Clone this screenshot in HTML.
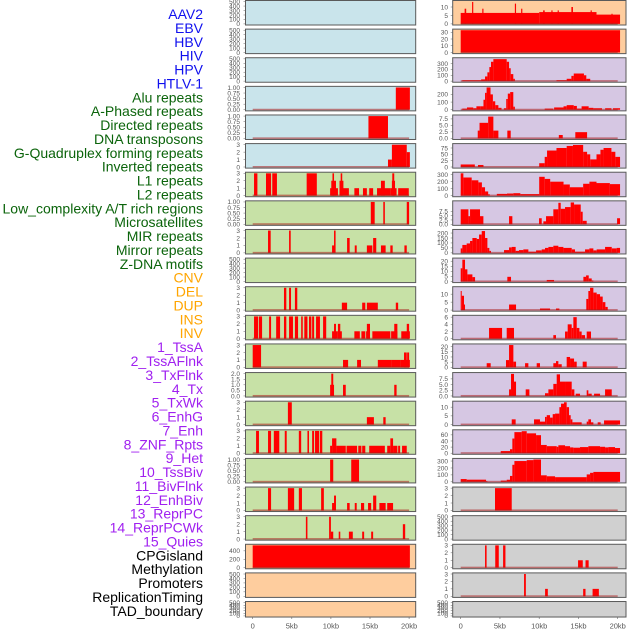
<!DOCTYPE html>
<html><head><meta charset="utf-8">
<style>
html,body{margin:0;padding:0;background:#fff;}
svg{display:block;font-family:"Liberation Sans",sans-serif;}
</style></head>
<body>
<svg id="chart" width="630" height="630" viewBox="0 0 630 630" xmlns="http://www.w3.org/2000/svg"></svg>
<script>
// ---- labels ----
const labelNames = ["AAV2","EBV","HBV","HIV","HPV","HTLV-1","Alu repeats","A-Phased repeats","Directed repeats","DNA transposons","G-Quadruplex forming repeats","Inverted repeats","L1 repeats","L2 repeats","Low_complexity A/T rich regions","Microsatellites","MIR repeats","Mirror repeats","Z-DNA motifs","CNV","DEL","DUP","INS","INV","1_TssA","2_TssAFlnk","3_TxFlnk","4_Tx","5_TxWk","6_EnhG","7_Enh","8_ZNF_Rpts","9_Het","10_TssBiv","11_BivFlnk","12_EnhBiv","13_ReprPC","14_ReprPCWk","15_Quies","CPGisland","Methylation","Promoters","ReplicationTiming","TAD_boundary"];
const labelGroups = [6,13,5,15,5];
const groupColors = ["#1010ee","#0b640b","#ffa500","#a020f0","#000000"];
const xTicks = [0,5,10,15,20];
const xTickLabels = ["0","5kb","10kb","15kb","20kb"];

// ---- left column data: segments [startKb, endKb, value] ----
const lAAV2 = [];
const lHBV = [];
const lHPV = [];
const lAlu = [[18.3,20.1,1]];
const lDirected = [[14.8,17.3,1]];
const lGquad = [[17.3,17.8,1],[17.8,19.7,3],[19.7,20.1,2]];
const lL1 = [[0.17,0.6,3],[1.7,2.35,3],[2.5,3.1,3],[6.9,8.2,3],[9.9,10.9,1],[10.05,10.65,2],[10.2,10.4,3],[11.1,12.3,1],[11.1,11.6,2],[11.25,11.45,3],[13,13.6,1],[14.1,14.6,1],[14.9,15.4,1],[15.9,17.6,1],[16.4,16.9,2],[17.6,18.4,1],[17.8,18.2,2],[17.85,18.1,3],[18.6,19.96,1]];
const lLowComplex = [[15.1,15.6,1],[16.7,16.9,1],[19.7,20.0,1]];
const lMIR = [[1.96,2.3,3],[4.65,4.86,3],[10.15,10.45,1],[10.4,10.6,3],[12.07,12.4,2],[13.05,13.3,1],[14.6,15.0,1],[15.0,15.3,1],[15.4,15.8,2],[16.4,17.0,1],[17.6,17.9,1],[19.4,19.7,1]];
const lZDNA = [];
const lDEL = [[4.0,4.3,3],[4.65,4.9,3],[5.4,5.7,3],[11.4,12.07,1],[14.0,14.4,1],[14.6,16.0,1],[18.3,18.6,1]];
const lINS = [[0.17,0.7,3],[0.8,1.2,3],[2.1,2.35,3],[3.0,3.5,3],[4.0,4.3,3],[4.65,5.15,3],[5.4,5.8,3],[6.2,6.4,3],[6.6,7.0,3],[7.2,7.5,3],[7.6,7.85,3],[8.1,8.6,3],[9.0,9.4,3],[10.15,10.8,1],[10.4,10.65,2],[10.8,11.4,1],[10.9,11.2,2],[13.0,13.7,1],[13.9,14.4,1],[14.5,15.0,1],[14.6,15.0,2],[15.3,17.6,1],[17.7,18.5,1],[18.1,18.5,2],[19.0,20.1,1],[19.7,20.0,2]];
const lTssA = [[0,1.07,3],[11.55,12.2,1],[13.35,13.85,1],[16.0,17.8,1],[17.8,18.85,1],[18.85,20.1,1],[19.35,19.7,2],[19.75,20.0,2]];
const lTxFlnk = [[9.9,10.4,1],[10.05,10.3,2],[11.55,11.9,1],[18.1,18.4,1]];
const lTxWk = [[4.5,5.0,3],[14.6,15.5,1],[16.7,17.0,1]];
const lEnh = [[0.43,0.8,3],[1.96,2.35,3],[2.7,3.4,3],[4.1,4.35,3],[5.9,6.2,3],[7.0,7.2,3],[7.6,7.85,3],[7.97,8.5,3],[8.6,8.9,3],[9.9,10.15,1],[10.15,10.7,2],[10.7,11.9,1],[12.0,13.35,1],[13.5,13.9,1],[14.0,14.4,1],[14.9,16.9,1],[17.2,17.6,1],[17.6,17.95,2],[17.95,18.5,1],[18.6,18.85,1],[19.1,19.7,1]];
const lHet = [[9.9,10.3,1],[12.6,13.6,1]];
const lBivFlnk = [[1.96,2.35,3],[4.5,5.3,3],[5.9,6.3,3],[8.75,9.1,3],[10.15,10.5,1],[10.4,10.65,2],[12.07,12.4,1],[13.05,13.3,1],[13.85,14.25,1],[14.75,15.15,1],[15.4,15.8,2],[16.2,17.0,1],[17.2,17.95,1]];
const lReprPC = [[6.8,7.0,3],[9.77,10.0,3],[10.0,10.3,1],[11.0,11.2,1],[12.3,12.8,1],[14.0,14.25,1],[15.15,15.4,1],[19.2,19.5,2]];
const lCPG = [[0,20.1,530]];
const lPromoters = [];
const lTAD = [];

// ---- right column data ----
const rAAV2 = [[0,10,6.5],[10,17.3,7],[17.3,20.3,5.5],[0.5,0.7,9],[1.45,1.6,13],[2.75,2.9,9],[6.9,7.05,12],[7.7,7.85,9],[10.5,10.7,8],[11.55,11.7,8],[12.35,12.5,8],[14.1,14.3,10],[16.55,16.7,8],[19.2,19.35,6]];
const rEBV = [[0,20.3,33]];
const rHBV = [[0.2,2.6,15],[2.6,3.1,30],[3.1,3.4,80],[3.4,3.65,150],[3.65,3.86,240],[3.86,4.16,330],[4.16,5.86,375],[5.86,6.16,330],[6.16,6.37,220],[6.37,6.7,120],[6.7,6.9,40],[12.2,13.5,15],[13.5,14.1,40],[14.1,14.4,90],[14.4,15.7,130],[15.7,16.0,100],[16.0,16.5,40]];
const rHIV = [[0.2,0.8,15],[0.8,1.6,30],[1.6,2.0,20],[2.0,2.5,45],[2.5,2.9,45],[2.9,3.1,130],[3.1,3.3,220],[3.3,3.8,290],[3.8,4.1,200],[4.1,4.4,110],[4.4,4.8,60],[4.8,5.2,25],[5.5,5.8,20],[5.8,6.0,140],[6.0,6.3,210],[6.3,6.7,230],[6.7,6.9,40],[10.7,11.8,15],[11.9,13.1,30],[13.1,13.5,45],[13.5,14.4,60],[14.4,14.8,50],[14.8,15.4,15],[15.4,16.3,45],[16.3,16.9,25],[16.9,18.0,20],[18.4,19.2,20],[19.4,20.3,20]];
const rHPV = [[2.17,2.4,3],[2.4,3.5,6],[3.5,4.16,8.4],[4.16,4.8,3],[5.94,6.37,3],[12.5,13.0,1.3],[14.6,16.1,2.4]];
const rGquad = [[0,1.8,10],[2.2,2.9,8],[10,10.7,15],[10.7,11,40],[11,12.2,65],[12.2,13.5,75],[13.5,14.3,83],[14.3,15.6,87],[15.6,16.1,60],[16.1,16.5,50],[16.5,17.3,30],[17.3,17.8,50],[17.8,18.2,68],[18.2,19.2,75],[19.2,19.7,60],[19.7,20.3,40]];
const rInverted = [[0,0.34,320],[0.34,1.4,260],[1.4,2.25,220],[2.25,2.7,190],[2.7,3.1,120],[3.1,3.5,60],[3.5,3.7,20],[4.6,5.9,25],[5.9,6.7,30],[6.7,7.6,35],[7.6,10,22],[10,10.7,270],[10.7,11.4,240],[11.4,13.1,200],[13.1,13.9,160],[13.9,15.6,120],[15.6,16.4,170],[16.4,17.3,200],[17.3,19,180],[19,20.3,165]];
const rL2 = [[0,0.98,8.7],[0.98,1.19,4.7],[1.19,2.46,8.7],[2.46,2.89,4.7],[6.16,6.58,4.7],[9.98,10.32,3.5],[10.53,10.87,1.7],[10.87,11.8,4.7],[11.8,12.44,8.7],[12.44,12.74,12.5],[12.74,13.29,9],[13.29,14.01,10],[14.01,14.44,12.7],[14.44,15.29,11.5],[15.29,15.54,7.3],[15.54,16.05,2],[19.92,20.3,3.5]];
const rMIR = [[0,0.21,45],[0.21,0.76,80],[0.76,1.19,95],[1.19,1.49,120],[1.49,2.04,150],[2.04,2.34,140],[2.34,2.68,185],[2.68,3.1,220],[3.1,3.4,150],[3.4,3.65,50],[3.65,3.86,20],[5.52,6.16,28],[6.16,6.5,55],[6.5,7.0,60],[7.0,7.43,20],[7.43,7.98,28],[7.98,8.62,35],[8.62,9.6,12],[9.6,10.32,25],[10.32,10.74,35],[10.74,11.17,50],[11.17,11.8,60],[11.8,12.44,72],[12.44,13.08,60],[13.08,14.14,50],[14.14,14.56,35],[14.56,15.84,12],[15.84,16.39,35],[16.39,16.9,45],[16.9,17.32,25],[17.32,18.39,35],[18.39,19.24,60],[19.24,19.87,45],[19.87,20.3,50]];
const rZDNA = [[0,0.21,13],[0.21,0.55,21.5],[0.55,0.85,12],[0.85,1.49,7],[1.49,1.83,4.3],[5.94,6.41,4.6],[10.96,11.89,1.5],[15.63,15.97,4.6],[15.97,16.31,6],[16.31,16.69,3],[16.69,16.9,1]];
const rCNV = [[0,0.13,12],[0.13,0.42,9],[0.42,0.55,3.5],[6.16,7.05,3.5],[10.1,11.38,1],[12.14,12.57,1],[16.0,16.26,7],[16.26,16.48,12],[16.48,16.9,14],[16.9,17.32,11],[17.32,17.75,10],[17.75,18.09,8.5],[18.09,18.43,5],[18.43,18.73,2]];
const rDEL = [[3.61,5.27,3],[5.86,6.79,3],[11.8,12.14,1],[13.29,13.63,2],[13.63,14.14,4],[14.14,14.35,3],[14.35,14.78,6],[14.78,15.12,3],[15.12,15.41,2],[15.41,15.84,1],[16.05,16.6,2]];
const rDUP = [[3.31,3.82,4],[5.77,6.16,7],[6.16,6.71,21.5],[6.71,7.05,5.5],[8.2,8.62,4],[9.68,10.1,4],[11.8,12.14,4],[12.14,12.44,6],[12.44,12.87,3],[13.5,13.93,10],[13.93,14.44,8.5],[14.44,14.78,5.5],[15.54,16.05,5.5]];
const rINS = [[6.16,6.41,2.9],[6.41,6.79,9.7],[6.79,7.05,6.3],[8.28,8.75,2.9],[10.74,11.17,1.2],[11.17,11.8,2.9],[11.8,12.23,5.3],[12.23,12.65,9.5],[12.65,13.29,6.3],[13.29,14.14,6.3],[14.14,14.48,2.9],[14.65,15.2,1],[16.05,16.26,2.5],[16.26,16.69,1],[16.99,17.75,1],[18.39,19.24,2.9]];
const rTssA = [[6.5,7.0,3],[9.34,10.1,3],[10.1,10.74,1.7],[10.74,10.96,4.4],[10.96,11.38,5.4],[11.38,11.72,4],[11.72,12.02,6],[12.02,12.57,6.3],[12.57,12.78,10],[12.78,13.16,12],[13.16,13.5,12.8],[13.5,13.8,10],[13.8,14.01,5.4],[14.01,14.23,3],[14.23,15.41,1.3],[16.05,16.26,1.7],[16.26,16.6,3],[16.6,16.9,1.3],[17.45,17.83,1.3],[18.26,20.3,2.4]];
const rTxFlnk = [[5.1,6.28,7],[6.28,6.58,13],[6.58,6.84,48],[6.84,7.77,69],[7.77,8.41,72],[8.41,9.6,65],[9.6,10.23,59],[10.23,10.96,27],[10.96,12.23,23],[12.23,12.44,21],[12.44,13.29,26],[13.29,13.93,23],[13.93,14.35,19],[14.35,15.2,18],[15.2,16.26,20],[16.26,17.75,23],[17.75,18.39,21],[18.39,18.81,19],[18.81,19.66,20],[19.66,20.3,17]];
const rTxWk = [[0,0.76,40],[0.76,3.23,31],[3.23,3.4,10],[5.1,5.86,18],[5.86,6.28,30],[6.28,6.58,85],[6.58,6.84,246],[6.84,8.41,300],[8.41,9.26,313],[9.26,10.23,322],[10.23,10.96,94],[10.96,12.02,80],[12.02,16.05,67],[16.05,16.48,107],[16.48,16.9,130],[16.9,20.3,143]];
const rEnh = [[4.37,6.5,3]];
const rHet = [];
const rBivFlnk = [[3.1,3.3,3],[4.4,4.85,3],[5.4,5.7,3],[14.95,15.55,1],[15.9,16.3,1]];
const rReprPC = [[8.07,8.3,3],[10.75,11.1,1],[15.6,15.9,1],[16.8,17.6,1]];
const rQuies = [];

// ---- y-axis maxima and ticks ----
const leftSeries = [lAAV2,lHBV,lHPV,lAlu,lDirected,lGquad,lL1,lLowComplex,lMIR,lZDNA,lDEL,lINS,lTssA,lTxFlnk,lTxWk,lEnh,lHet,lBivFlnk,lReprPC,lCPG,lPromoters,lTAD];
const rightSeries = [rAAV2,rEBV,rHBV,rHIV,rHPV,rGquad,rInverted,rL2,rMIR,rZDNA,rCNV,rDEL,rDUP,rINS,rTssA,rTxFlnk,rTxWk,rEnh,rHet,rBivFlnk,rReprPC,rQuies];
const leftMax = [500,500,500,1,1,3,3,1,3,500,3,3,3,2,3,3,1,3,3,530,500,500];
const rightMax = [13.2,33,380,290,8.6,88,320,13,225,22,14,6.2,21.5,9.8,12.8,73,322,3,500,3,3,500];
const T500 = ["0","100","200","300","400","500"];
const T1 = ["0.00","0.25","0.50","0.75","1.00"];
const T3 = ["0","1","2","3"];
const T2 = ["0.0","0.5","1.0","1.5","2.0"];
const leftTicks = [T500,T500,T500,T1,T1,T3,T3,T1,T3,T500,T3,T3,T3,T2,T3,T3,T1,T3,T3,["0","200","400"],T500,T500];
const rightTicks = [["0","5","10"],["0","10","20","30"],["0","100","200","300"],["0","100","200"],["0.0","2.5","5.0","7.5"],["0","25","50","75"],["0","100","200","300"],["0.0","2.5","5.0","7.5"],["0","50","100","150","200"],["0","5","10","15","20"],["0","5","10"],["0","2","4","6"],["0","5","10","15","20"],["0.0","2.5","5.0","7.5"],["0","5","10"],["0","20","40","60"],["0","100","200","300"],T3,T500,T3,T3,T500];
const leftBg = ["#c9e4eb","#c9e4eb","#c9e4eb","#c9e4eb","#c9e4eb","#c9e4eb","#c7e1a6","#c7e1a6","#c7e1a6","#c7e1a6","#c7e1a6","#c7e1a6","#c7e1a6","#c7e1a6","#c7e1a6","#c7e1a6","#c7e1a6","#c7e1a6","#c7e1a6","#fecd9e","#fecd9e","#fecd9e"];
const rightBg = ["#fecd9e","#fecd9e","#d6c7e3","#d6c7e3","#d6c7e3","#d6c7e3","#d6c7e3","#d6c7e3","#d6c7e3","#d6c7e3","#d6c7e3","#d6c7e3","#d6c7e3","#d6c7e3","#d6c7e3","#d6c7e3","#d6c7e3","#d0d0d0","#d0d0d0","#d0d0d0","#d0d0d0","#d0d0d0"];

const NS = "http://www.w3.org/2000/svg";
const svg = document.getElementById("chart");
function mk(tag, attrs, parent) {
  const e = document.createElementNS(NS, tag);
  for (const k in attrs) e.setAttribute(k, attrs[k]);
  (parent || svg).appendChild(e);
  return e;
}

// labels
let li = 0;
labelGroups.forEach(function (n, g) {
  for (let k = 0; k < n; k++) {
    const t = mk("text", {x: 203, y: 14 + li * 13.88 + 5, "text-anchor": "end", "font-size": 14, fill: groupColors[g]});
    t.textContent = labelNames[li];
    
    
    li++;
  }
});

const cols = [
  {x0: 245.5, x1: 415.7, zero: 252.7, ppk: 7.82, tickX: 240, series: leftSeries, max: leftMax, ticks: leftTicks, bg: leftBg, name: "left"},
  {x0: 452.7, x1: 626, zero: 460.7, ppk: 7.85, tickX: 448, series: rightSeries, max: rightMax, ticks: rightTicks, bg: rightBg, name: "right"}
];

cols.forEach(function (c) {
  const xs = function (kb) { return c.zero + kb * c.ppk; };
  for (let i = 0; i < 22; i++) {
    const top = i * 28.62 + 0.5;
    const h = i === 21 ? 15.5 : 24.5;
    const bottom = top + h;
    const maxV = c.max[i];
    const ys = function (v) { return bottom - 1.1 - (v / maxV) * (h - 2.2); };
    const g = mk("g", {});
    
    
    mk("rect", {x: c.x0, y: top, width: c.x1 - c.x0, height: h, fill: c.bg[i]}, g);
    const segs = c.series[i];
    segs.forEach(function (s) {
      const r = mk("rect", {x: xs(s[0]), y: ys(s[2]), width: Math.max(0.8, xs(s[1]) - xs(s[0])), height: ys(0) - ys(s[2]), fill: "#ff0000"}, g);
      
      
    });
    if (segs.length) {
      mk("rect", {x: xs(0), y: ys(0) - 1, width: xs(20) - xs(0), height: 1.6, fill: "rgba(170,30,30,0.55)"}, g);
    }
    mk("rect", {x: c.x0, y: top, width: c.x1 - c.x0, height: h, fill: "none", stroke: "#5a5a5a", "stroke-width": 1}, g);
    const tk = c.ticks[i];
    tk.forEach(function (lab) {
      const v = parseFloat(lab);
      const ty = ys(v);
      const t = mk("text", {x: c.tickX, y: ty + 2.3, "text-anchor": "end", "font-size": 6.5, fill: "#555"}, g);
      t.textContent = lab;
      
      
      mk("line", {x1: c.x0 - 2, x2: c.x0, y1: ty, y2: ty, stroke: "#666", "stroke-width": 0.5}, g);
    });
  }
  xTicks.forEach(function (kb, j) {
    mk("line", {x1: xs(kb), x2: xs(kb), y1: 616.5, y2: 619, stroke: "#666", "stroke-width": 0.6});
    const t = mk("text", {x: xs(kb), y: 628.5, "text-anchor": "middle", "font-size": 7.5, fill: "#555"});
    t.textContent = xTickLabels[j];
    
    
  });
});
</script>
</body></html>
